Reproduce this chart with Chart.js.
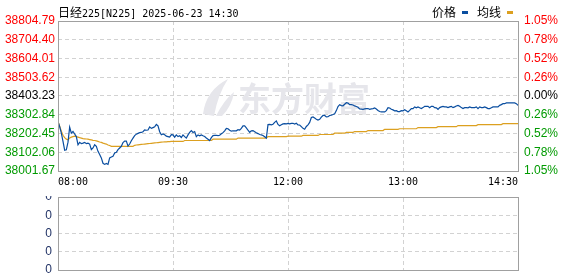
<!DOCTYPE html>
<html>
<head>
<meta charset="utf-8">
<script src="https://cdn.jsdelivr.net/npm/chart.js@4"></script>
<style>
  html, body { margin: 0; padding: 0; background: #fff; }
  #wrap { position: relative; width: 578px; height: 276px; overflow: hidden; }
  #main { position: absolute; left: 0; top: 0; }
  #vol { position: absolute; left: 0; top: 196px; }
  .hdr { position: absolute; top: 3px; font: 10px "DejaVu Sans Mono", monospace; color: #000; line-height: 14px; white-space: nowrap; }
  .cjk { font: 12px "Noto Sans CJK SC", sans-serif; }
  #title { left: 58px; }
  #legend { right: 65px; }
  .mk { display: inline-block; width: 6px; height: 3px; vertical-align: 3px; margin: 0 9px 0 6px; }
</style>
</head>
<body>
<div id="wrap">
  <canvas id="main" width="578" height="276"></canvas>
  <canvas id="vol" width="578" height="80"></canvas>
  <div class="hdr" id="title"><span class="cjk">日经</span>225[N225] 2025-06-23 14:30</div>
  <div class="hdr" id="legend"><span class="cjk">价格</span><span class="mk" style="background:#0a4ea0"></span><span class="cjk">均线</span><span class="mk" style="background:#dca020;margin-right:0"></span></div>
</div>
<script>
// 昨收 / 纵轴刻度
const prevClose = 38403.23
const yTicks = [38001.67, 38102.06, 38202.45, 38302.84, 38403.23, 38503.62, 38604.01, 38704.40, 38804.79]
const pctLabels = ['1.05%', '0.78%', '0.52%', '0.26%', '0.00%', '0.26%', '0.52%', '0.78%', '1.05%']
const timeLabels = ['08:00', '09:30', '12:00', '13:00', '14:30']
const volTicks = [0, 0, 0, 0, 0]

// 分时价格
const price = [
  38267, 38239, 38204, 38160, 38113, 38115, 38156, 38236, 38204, 38213,
  38200, 38186, 38142, 38155, 38148, 38151, 38155, 38148, 38151, 38146,
  38116, 38125, 38142, 38134, 38107, 38090, 38072, 38043, 38037, 38042,
  38037, 38072, 38077, 38081, 38098, 38102, 38116, 38125, 38134, 38154,
  38162, 38162, 38135, 38146, 38164, 38178, 38191, 38199, 38203, 38207,
  38208, 38212, 38222, 38220, 38221, 38238, 38230, 38234, 38238, 38251,
  38243, 38212, 38196, 38200, 38196, 38188, 38186, 38183, 38196, 38195,
  38183, 38195, 38186, 38190, 38181, 38195, 38186, 38178, 38195, 38208,
  38218, 38208, 38213, 38186, 38195, 38190, 38195, 38190, 38186, 38178,
  38172, 38165, 38180, 38191, 38192, 38193, 38191, 38193, 38201, 38207,
  38217, 38230, 38228, 38220, 38215, 38217, 38217, 38217, 38223, 38221,
  38230, 38243, 38243, 38233, 38220, 38209, 38217, 38218, 38212, 38206,
  38202, 38197, 38195, 38192, 38185, 38178, 38250, 38251, 38249, 38252,
  38262, 38270, 38251, 38244, 38249, 38254, 38255, 38254, 38257, 38254,
  38257, 38257, 38253, 38257, 38248, 38248, 38239, 38230, 38225, 38240,
  38249, 38262, 38288, 38291, 38285, 38279, 38274, 38278, 38290, 38299,
  38299, 38291, 38292, 38299, 38301, 38304, 38308, 38325, 38347, 38357,
  38352, 38351, 38359, 38367, 38365, 38357, 38357, 38355, 38350, 38347,
  38343, 38334, 38333, 38332, 38334, 38336, 38336, 38332, 38334, 38336,
  38339, 38334, 38326, 38320, 38318, 38318, 38318, 38325, 38341, 38339,
  38332, 38329, 38324, 38325, 38320, 38320, 38325, 38324, 38330, 38324,
  38318, 38326, 38336, 38336, 38345, 38340, 38345, 38340, 38336, 38341,
  38348, 38348, 38348, 38341, 38348, 38348, 38341, 38340, 38332, 38341,
  38345, 38348, 38345, 38345, 38341, 38345, 38348, 38341, 38345, 38350,
  38353, 38348, 38341, 38336, 38341, 38341, 38340, 38345, 38341, 38341,
  38341, 38345, 38336, 38345, 38341, 38341, 38345, 38341, 38336, 38336,
  38340, 38345, 38345, 38345, 38345, 38353, 38357, 38362, 38362, 38366,
  38366, 38366, 38366, 38366, 38366, 38362, 38353
]

// 均价线
const avg = [
  38267, 38241, 38215, 38193, 38180, 38172, 38169, 38178, 38183, 38186,
  38188, 38186, 38183, 38180, 38178, 38175, 38174, 38173, 38172, 38170,
  38168, 38166, 38165, 38163, 38160, 38157, 38155, 38151, 38148, 38146,
  38141, 38138, 38134, 38134, 38134, 38134, 38134, 38134, 38134, 38134,
  38134, 38134, 38134, 38134, 38134, 38134, 38139, 38141, 38142, 38143,
  38144, 38145, 38146, 38147, 38148, 38149, 38150, 38151, 38152, 38153,
  38154, 38155, 38156, 38157, 38158, 38158, 38159, 38159, 38160, 38160,
  38160, 38160, 38160, 38160, 38160, 38160, 38165, 38165, 38165, 38165,
  38165, 38165, 38165, 38165, 38165, 38165, 38165, 38165, 38165, 38165,
  38165, 38165, 38165, 38172, 38172, 38172, 38172, 38172, 38172, 38172,
  38172, 38172, 38172, 38172, 38172, 38172, 38172, 38172, 38178, 38178,
  38178, 38178, 38178, 38178, 38178, 38178, 38178, 38178, 38178, 38178,
  38178, 38178, 38178, 38178, 38178, 38178, 38186, 38186, 38186, 38186,
  38186, 38186, 38186, 38186, 38186, 38186, 38186, 38186, 38188, 38188,
  38188, 38188, 38188, 38188, 38188, 38188, 38188, 38192, 38192, 38192,
  38192, 38192, 38192, 38192, 38192, 38192, 38192, 38197, 38197, 38197,
  38197, 38197, 38197, 38197, 38197, 38197, 38204, 38204, 38204, 38204,
  38204, 38204, 38204, 38209, 38209, 38209, 38209, 38209, 38213, 38213,
  38213, 38213, 38213, 38213, 38213, 38213, 38218, 38218, 38218, 38218,
  38218, 38218, 38218, 38218, 38218, 38218, 38225, 38225, 38225, 38225,
  38225, 38225, 38225, 38225, 38225, 38228, 38228, 38228, 38228, 38228,
  38228, 38228, 38228, 38228, 38228, 38228, 38234, 38234, 38234, 38234,
  38234, 38234, 38234, 38234, 38234, 38234, 38234, 38234, 38239, 38239,
  38239, 38239, 38239, 38239, 38239, 38239, 38239, 38239, 38239, 38239,
  38245, 38245, 38245, 38245, 38245, 38245, 38245, 38245, 38245, 38245,
  38245, 38245, 38250, 38250, 38250, 38250, 38250, 38250, 38250, 38250,
  38250, 38250, 38250, 38250, 38250, 38250, 38250, 38255, 38255, 38255,
  38255, 38255, 38255, 38255, 38255, 38255, 38255
]

const lastIdx = price.length - 1
const xTickVals = timeLabels.map((t, i) => i * lastIdx / (timeLabels.length - 1))
const gridDash = [4, 3]
const gridColor = '#d2d2d2'
const frameColor = '#a0a0a0'
const clear = 'rgba(0,0,0,0)'
const volOffset = 196   // 成交量画布在页面中的纵向偏移

function priceColor(v) {
  if (v > prevClose + 0.005) return '#ff0000'
  if (v < prevClose - 0.005) return '#009a00'
  return '#000'
}

// 内部网格线：首尾与外框重合，不画
const innerGrid = n => c => (c.index === 0 || c.index === n - 1) ? clear : gridColor

// 外框
const framePlugin = {
  id: 'frame',
  afterDraw(chart) {
    const { ctx, chartArea: a } = chart
    ctx.save()
    ctx.strokeStyle = frameColor
    ctx.lineWidth = 1
    ctx.setLineDash([])
    ctx.strokeRect(Math.round(a.left) + 0.5, Math.round(a.top) + 0.5, Math.round(a.right - a.left), Math.round(a.bottom - a.top))
    ctx.restore()
  }
}

// 水印
const watermark = {
  id: 'watermark',
  beforeDatasetsDraw(chart) {
    const ctx = chart.ctx
    ctx.save()
    ctx.fillStyle = '#e6e6eb'
    ctx.beginPath()
    ctx.moveTo(203, 114)
    ctx.quadraticCurveTo(206, 90, 228, 79)
    ctx.quadraticCurveTo(218, 94, 214, 116)
    ctx.closePath()
    ctx.fill()
    ctx.beginPath()
    ctx.moveTo(216, 116)
    ctx.quadraticCurveTo(224, 100, 234, 92)
    ctx.quadraticCurveTo(232, 106, 222, 116)
    ctx.closePath()
    ctx.fill()
    ctx.font = 'bold 33px "Noto Sans CJK SC"'
    ctx.textBaseline = 'middle'
    ctx.fillText('东方财富', 238, 98)
    ctx.restore()
  }
}

// 成交量区（无数据）——先建，主图要读它的绘图区
const volChart = new Chart(document.getElementById('vol'), {
  type: 'line',
  data: { datasets: [{ label: '成交量', data: [], borderColor: '#999' }] },
  options: {
    responsive: false,
    animation: false,
    devicePixelRatio: 1,
    layout: { padding: { top: 1, left: 0, right: 60, bottom: 0 } },
    plugins: { legend: { display: false }, tooltip: { enabled: false } },
    scales: {
      x: {
        type: 'linear',
        offset: false,
        min: 0,
        max: lastIdx,
        afterBuildTicks: s => { s.ticks = xTickVals.map(v => ({ value: v })) },
        afterFit: s => { s.height = 6; s.paddingLeft = 0; s.paddingRight = 0 },
        border: { display: false },
        grid: { display: false, drawTicks: false },
        ticks: { display: false }
      },
      y: {
        min: 0,
        max: volTicks.length - 1,
        afterBuildTicks: s => { s.ticks = volTicks.map((v, i) => ({ value: i })) },
        afterFit: s => { s.width = 58; s.paddingTop = 0; s.paddingBottom = 0 },
        border: { display: false, dash: gridDash },
        grid: { drawTicks: false, color: innerGrid(volTicks.length) },
        ticks: {
          autoSkip: false,
          padding: 6,
          font: { family: 'Liberation Sans', size: 12 },
          color: '#223366',
          callback: (v, i) => String(volTicks[i])
        }
      }
    }
  },
  plugins: [framePlugin]
})

// 成交量区竖向网格：用主图 x 轴定位，画在主图画布的下半部分
const volGrid = {
  id: 'volGrid',
  afterDraw(chart) {
    const { ctx, scales } = chart
    const va = volChart.chartArea
    const top = volOffset + va.top
    const bottom = volOffset + va.bottom
    ctx.save()
    ctx.strokeStyle = gridColor
    ctx.lineWidth = 1
    ctx.setLineDash(gridDash)
    xTickVals.slice(1, -1).forEach(v => {
      const x = Math.round(scales.x.getPixelForValue(v)) + 0.5
      ctx.beginPath()
      ctx.moveTo(x, top + 1)
      ctx.lineTo(x, bottom)
      ctx.stroke()
    })
    ctx.restore()
  }
}

new Chart(document.getElementById('main'), {
  type: 'line',
  data: {
    datasets: [
      {
        label: '价格',
        data: price.map((v, i) => ({ x: i, y: v })),
        borderColor: '#0a4ea0',
        borderWidth: 1.2,
        pointRadius: 0,
        tension: 0,
        order: 1
      },
      {
        label: '均线',
        data: avg.map((v, i) => ({ x: i, y: v })),
        borderColor: '#dca020',
        borderWidth: 1.2,
        pointRadius: 0,
        tension: 0,
        order: 2
      }
    ]
  },
  options: {
    responsive: false,
    animation: false,
    devicePixelRatio: 1,
    layout: { padding: { top: 21, left: 0, right: 0, bottom: 80 } },
    plugins: { legend: { display: false }, tooltip: { enabled: false } },
    scales: {
      x: {
        type: 'linear',
        min: 0,
        max: lastIdx,
        afterBuildTicks: s => { s.ticks = xTickVals.map(v => ({ value: v })) },
        afterFit: s => { s.height = 25 },
        border: { display: false, dash: gridDash },
        grid: { drawTicks: false, color: innerGrid(xTickVals.length) },
        ticks: {
          align: 'inner',
          autoSkip: false,
          maxRotation: 0,
          padding: 5,
          color: '#000',
          font: { family: 'DejaVu Sans Mono', size: 10 },
          callback: (v, i) => timeLabels[i]
        }
      },
      y: {
        position: 'left',
        min: yTicks[0],
        max: yTicks[yTicks.length - 1],
        afterBuildTicks: s => { s.ticks = yTicks.map(v => ({ value: v })) },
        afterFit: s => { s.width = 58 },
        border: { display: false, dash: gridDash },
        grid: { drawTicks: false, color: innerGrid(yTicks.length) },
        ticks: {
          autoSkip: false,
          padding: 3,
          font: { family: 'Liberation Sans', size: 12 },
          color: c => priceColor(c.tick.value),
          callback: v => v.toFixed(2)
        }
      },
      y2: {
        position: 'right',
        min: yTicks[0],
        max: yTicks[yTicks.length - 1],
        afterBuildTicks: s => { s.ticks = yTicks.map(v => ({ value: v })) },
        afterFit: s => { s.width = 60 },
        border: { display: false },
        grid: { display: false, drawTicks: false },
        ticks: {
          autoSkip: false,
          padding: 6,
          font: { family: 'Liberation Sans', size: 12 },
          color: c => priceColor(c.tick.value),
          callback: (v, i) => pctLabels[i]
        }
      }
    }
  },
  plugins: [watermark, framePlugin, volGrid]
})
</script>
</body>
</html>
